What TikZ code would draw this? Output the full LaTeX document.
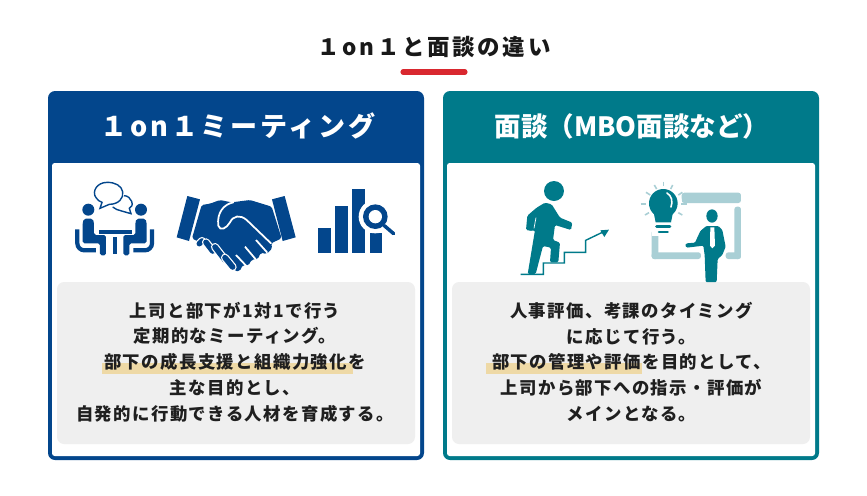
\documentclass[tikz,border=0pt]{standalone}
\usepackage{fontspec}
\newfontfamily\jptitle[LetterSpace=12]{Noto Sans CJK JP}
\newfontfamily\jphead[LetterSpace=10]{Noto Sans CJK JP}
\newfontfamily\jpplain{Noto Sans CJK JP}
\newfontfamily\jpbody[LetterSpace=8]{Noto Sans CJK JP}
\definecolor{navy}{HTML}{03468C}
\definecolor{teal}{HTML}{007A8A}
\definecolor{lightteal}{HTML}{A9CFD5}
\definecolor{panelgrey}{HTML}{EFEFEF}
\definecolor{marker}{HTML}{EED9A6}
\definecolor{accent}{HTML}{D9282F}
\tikzset{
    titletext/.style={text=black!90, font=\jptitle\bfseries\fontsize{12.8}{15}\selectfont},
    headtext/.style={text=white, font=\jphead\bfseries\fontsize{15.4}{18}\selectfont},
    headplain/.style={text=white, font=\jpplain\bfseries\fontsize{15.1}{18}\selectfont},
    bodytext/.style={text=black!88, align=center, font=\jpbody\bfseries\fontsize{9.9}{14.63}\selectfont},
    zoomed/.style={x=0.00667cm, y=-0.00667cm},
    seated/.pic={
            \fill[navy] (55,104) circle (18);
            \fill[navy, rounded corners=1pt] (38,142) -- (42,131) -- (68,131) -- (72,142) -- (72,180) -- (108,180) -- (108,241) -- (90,241) -- (90,205) -- (38,205) -- cycle;
            \draw[navy, line width=2.4pt, rounded corners=4pt] (22,163) -- (22,226) -- (78,226);
        }
}
\begin{document}
\begin{tikzpicture}[x=0.02cm, y=-0.02cm]
    \useasboundingbox (0,0) rectangle (867,495);
    \fill[white] (0,0) rectangle (867,495);
    \node[titletext] (title) at (434,47) {１on１と面談の違い};
    \draw[accent, line width=2.9pt, line cap=round] (403,72) -- (465,72);

    \foreach \xa/\xb/\col in {48/424/navy, 443/819/teal} {
            \fill[\col, rounded corners=4pt] (\xa,91) rectangle (\xb,460);
            \fill[white, rounded corners=1.5pt] (\xa+4,163) rectangle (\xb-4,456);
            \fill[panelgrey, rounded corners=4pt] (\xa+9,282) rectangle (\xb-9,444);
        }
    \node[headtext] (headleft) at (238,126) {１on１ミーティング};
    \node[headplain] (headright) at (632,126) {面談（MBO面談など）};

    \fill[marker] (102,363) rectangle (353,373.5);
    \fill[marker] (486,363) rectangle (642,373.5);
    \node[bodytext] (bodyleft) at (235,362) {上司と部下が1対1で行う\\定期的なミーティング。\\部下の成長支援と組織力強化を\\主な目的とし、\\自発的に行動できる人材を育成する。};
    \node[bodytext] (bodyright) at (631.5,362) {人事評価、考課のタイミング\\に応じて行う。\\部下の管理や評価を目的として、\\上司から部下への指示・評価が\\メインとなる。};

    \begin{scope}[shift={(70,175)}, zoomed]
        \pic at (0,0) {seated};
        \pic[xscale=-1] at (268,0) {seated};
        \fill[navy] (88,165) rectangle (187,178);
        \fill[navy] (128,185) rectangle (142,236);
        \draw[navy, line width=0.8pt, fill=white] (112,22) .. controls (80,22) and (65,50) .. (78,68) .. controls (83,76) and (90,80) .. (96,82) -- (90,100) -- (118,88) .. controls (145,88) and (162,70) .. (158,50) .. controls (155,32) and (135,22) .. (112,22) -- cycle;
        \draw[navy, line width=0.8pt] (162,62) .. controls (185,62) and (195,95) .. (178,100) -- (183,116) -- (155,108) .. controls (145,106) and (135,102) .. (128,96);
    \end{scope}

    \begin{scope}[shift={(170,185)}, zoomed]
        \fill[navy] (52,33) -- (90,43) -- (57,168) -- (20,157) -- cycle;
        \fill[navy] (306,43) -- (344,33) -- (377,157) -- (338,168) -- cycle;
        \fill[navy, rounded corners=1pt] (95,60) -- (120,56) -- (150,45) -- (185,52) -- (240,45) -- (305,65) -- (335,160) -- (303,175) -- (307,190) -- (290,207) -- (272,203) -- (264,222) -- (245,224) -- (235,242) -- (218,240) -- (210,258) -- (195,258) -- (150,205) -- (66,160) -- cycle;
        \draw[white, line width=1pt, line cap=round] (190,52) .. controls (160,58) and (140,85) .. (145,122) .. controls (150,140) and (170,130) .. (180,112) .. controls (190,92) and (210,88) .. (230,105) -- (303,175);
        \draw[white, line width=1pt] (258,165) -- (292,203);
        \draw[white, line width=1pt] (225,185) -- (258,224);
        \draw[white, line width=1pt] (198,210) -- (230,244);
        \foreach \xa/\ya/\xb/\yb in {88/176/96/168, 108/172/128/198, 135/186/165/225, 165/218/188/246} {
                \draw[white, line width=4.6pt, line cap=round] (\xa,\ya) -- (\xb,\yb);
                \draw[navy, line width=3.2pt, line cap=round] (\xa,\ya) -- (\xb,\yb);
            }
    \end{scope}

    \begin{scope}[shift={(315,180)}, zoomed]
        \fill[navy] (9,145) rectangle (47,218);
        \fill[navy] (61,79) rectangle (98,218);
        \fill[navy] (112,27) rectangle (149,218);
        \fill[navy] (164,160) rectangle (201,218);
        \fill[white] (181,110) circle (50);
        \draw[white, line width=3.2pt] (208,137) -- (238,163);
        \draw[navy, line width=2pt, line cap=round] (208,137) -- (236,161);
        \fill[navy] (181,110) circle (37);
        \fill[white] (181,110) circle (20);
    \end{scope}

    \begin{scope}[shift={(515,175)}, zoomed]
        \fill[teal] (117,48) circle (30);
        \fill[teal, rounded corners=0.8pt] (90,83) -- (110,88) -- (135,128) -- (172,143) -- (168,165) -- (120,150) -- (114,195) -- (135,203) -- (130,262) -- (105,262) -- (108,218) -- (84,213) -- (62,297) -- (38,297) -- (60,165) -- (52,168) -- (33,165) -- (37,122) -- (65,98) -- cycle;
        \draw[white, line width=0.4pt] (63,128) -- (57,160);
        \draw[teal, line width=0.8pt] (17,298) -- (85,298) -- (85,264) -- (148,264) -- (148,232) -- (212,232) -- (212,196) -- (262,172);
        \fill[teal] (282,164) -- (256,166) -- (268,186) -- cycle;
    \end{scope}

    \begin{scope}[shift={(635,175)}, zoomed]
        \fill[lightteal, rounded corners=1.5pt] (140,53) rectangle (318,84);
        \fill[lightteal, rounded corners=1.5pt] (298,95) rectangle (318,252);
        \fill[lightteal, rounded corners=1.5pt] (272,232) rectangle (318,252);
        \fill[lightteal, rounded corners=1.5pt] (50,232) rectangle (198,252);
        \fill[lightteal, rounded corners=1.5pt] (50,165) rectangle (70,252);
        \fill[white] (85,85) circle (56);
        \fill[white] (50,130) rectangle (120,183);
        \foreach \xa/\ya/\xb/\yb in {85/20/85/34, 58/30/65/42, 33/52/46/60, 17/87/32/87, 30/120/42/113, 113/30/107/42, 142/52/130/60, 155/87/138/87, 142/120/130/113} {
                \draw[lightteal, line width=0.9pt] (\xa,\ya) -- (\xb,\yb);
            }
        \fill[teal] (85,85) circle (43);
        \fill[teal] (56,112) -- (114,112) -- (108,142) -- (62,142) -- cycle;
        \draw[white, line width=0.9pt, line cap=round] (96,54) .. controls (110,62) and (114,80) .. (108,96);
        \draw[teal, line width=1.7pt, line cap=round] (65,155) -- (105,155);
        \draw[teal, line width=1.5pt, line cap=round] (72,171) -- (98,171);
        \fill[teal] (231,123) ellipse [x radius=17, y radius=20];
        \fill[teal, rounded corners=0.6pt] (214,153) -- (250,153) -- (262,165) -- (272,215) -- (262,240) -- (248,252) -- (245,321) -- (212,321) -- (209,240) -- (205,212) -- (155,218) -- (150,210) -- (155,205) -- (180,203) -- (196,168) -- cycle;
        \fill[white] (226,157) -- (238,157) -- (240,212) -- (232,220) -- (225,212) -- cycle;
    \end{scope}
\end{tikzpicture}
\end{document}
